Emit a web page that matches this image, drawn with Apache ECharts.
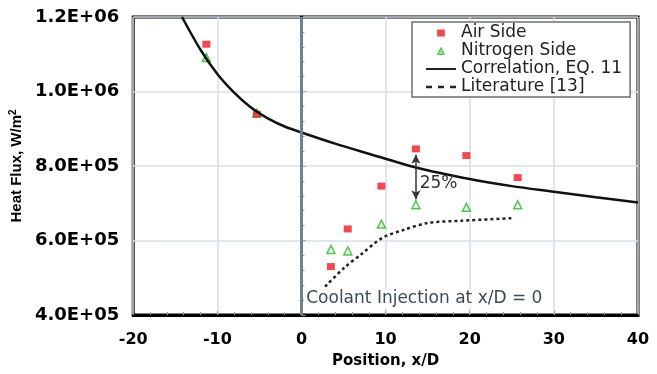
<!DOCTYPE html>
<html>
<head>
<meta charset="utf-8">
<script src="https://cdn.jsdelivr.net/npm/echarts@6/dist/echarts.min.js"></script>
<style>
  html, body { margin: 0; padding: 0; background: #fff; }
  #chart { width: 657px; height: 374px; }
</style>
</head>
<body>
<div id="chart"></div>
<script>
// values
const airX = [-11.3, -5.3, 3.5, 5.5, 9.5, 13.6, 19.6, 25.7];
const airY = [1127000, 939000, 530000, 631000, 746000, 846000, 828000, 769000];

const n2X = [-11.3, -5.3, 3.5, 5.5, 9.5, 13.6, 19.6, 25.7];
const n2Y = [1091000, 942000, 576000, 572000, 644000, 696000, 689000, 696000];

const corrX = [-14.2, -12, -10, -8, -6, -4, -2, 0, 4, 8, 13.6, 20, 25, 30, 35, 40];
const corrY = [1200000, 1112000, 1047000, 997000, 957000, 928000, 906000, 890000, 860000, 833000, 796000, 765000, 746000, 731000, 716000, 702000];

const litX = [2.8, 5.1, 7.1, 9.6, 12.2, 15, 19, 25.1];
const litY = [476000, 527000, 563000, 607000, 629000, 647000, 653000, 660000];

const xTicks = { min: -20, max: 40, step: 10 };
const yTicks = { min: 400000, max: 1200000, step: 200000 };

const arrowX = 13.6, arrowTop = 830000, arrowBottom = 711000;

const zip = (xs, ys) => xs.map((x, i) => [x, ys[i]]);

function sci(v) {
  const parts = v.toExponential(1).split('e');
  const e = parseInt(parts[1], 10);
  const sign = e < 0 ? '-' : '+';
  const ee = String(Math.abs(e)).padStart(2, '0');
  return parts[0] + 'E' + sign + ee;
}

const chart = echarts.init(document.getElementById('chart'));

const wide = 'DejaVu Sans';
const narrow = 'Liberation Sans';

const option = {
  animation: false,
  backgroundColor: '#fff',
  grid: {
    left: 132, right: 19, top: 17, bottom: 56,
    show: true,
    backgroundColor: '#fff',
    borderColor: '#000',
    borderWidth: 3
  },
  legend: {
    orient: 'vertical',
    left: 412,
    top: 22,
    backgroundColor: '#fff',
    borderColor: '#6f6f6f',
    borderWidth: 1.5,
    borderRadius: 0,
    padding: [2, 8, 1, 14],
    itemGap: 0,
    itemWidth: 30,
    itemHeight: 7,
    textStyle: { fontFamily: wide, fontSize: 17, color: '#222', lineHeight: 18 },
    data: [
      { name: 'Air Side', icon: 'path://M0,0h10v9h-10z', itemStyle: { color: '#ee1c25' } },
      { name: 'Nitrogen Side', icon: 'path://M5,0L10,10L0,10z', itemStyle: { color: '#6fd46f', borderColor: '#2fb52f', borderWidth: 1 } },
      { name: 'Correlation, EQ. 11', icon: 'path://M0,0h30v2h-30z', itemStyle: { color: '#222' } },
      { name: 'Literature [13]', icon: 'path://M0,0h5v2h-5z M10,0h5v2h-5z M20,0h5v2h-5z', itemStyle: { color: '#222' } }
    ]
  },
  xAxis: {
    type: 'value',
    min: xTicks.min, max: xTicks.max, interval: xTicks.step,
    name: 'Position, x/D',
    nameLocation: 'middle',
    nameGap: 39,
    nameTextStyle: { fontFamily: wide, fontWeight: 'bold', fontSize: 15, color: '#000' },
    axisLine: { lineStyle: { color: '#000', width: 3 } },
    axisTick: { inside: true, length: 4, lineStyle: { color: '#999' } },
    minorTick: { show: true, splitNumber: 5, length: 3, lineStyle: { color: '#999' } },
    splitLine: { show: true, lineStyle: { color: '#d6e0e8', width: 1.5 } },
    axisLabel: { fontFamily: wide, fontWeight: 'bold', fontSize: 16, color: '#000', margin: 17 }
  },
  yAxis: {
    type: 'value',
    min: yTicks.min, max: yTicks.max, interval: yTicks.step,
    name: 'Heat Flux, W/m{sup|2}',
    nameLocation: 'middle',
    nameGap: 102,
    nameTextStyle: {
      fontFamily: narrow, fontWeight: 'bold', fontSize: 15, color: '#000',
      rich: { sup: { fontFamily: narrow, fontWeight: 'bold', fontSize: 10, color: '#000', verticalAlign: 'top', padding: [0, 0, 7, 0] } }
    },
    axisLine: { lineStyle: { color: '#000', width: 3 } },
    axisTick: { inside: true, length: 4, lineStyle: { color: '#999' } },
    minorTick: { show: true, splitNumber: 5, length: 3, lineStyle: { color: '#999' } },
    splitLine: { show: true, lineStyle: { color: '#d6e0e8', width: 1.5 } },
    axisLabel: { fontFamily: wide, fontWeight: 'bold', fontSize: 18, color: '#000', margin: 14, formatter: sci }
  },
  series: [
    {
      name: 'ref',
      type: 'line',
      data: [],
      silent: true,
      markLine: {
        silent: true,
        symbol: 'none',
        label: { show: false },
        lineStyle: { color: '#6e8290', width: 3, type: 'solid' },
        data: [{ xAxis: 0 }]
      },
      markPoint: {
        silent: true,
        symbol: 'rect',
        symbolSize: 0,
        data: [
          {
            coord: [16.3, 752000],
            label: { show: true, formatter: '25%', fontFamily: wide, fontSize: 17, color: '#333' }
          },
          {
            coord: [14.6, 445000],
            label: {
              show: true, formatter: 'Coolant Injection at x/D = 0',
              fontFamily: wide, fontSize: 17, color: '#3b4c58',
              backgroundColor: '#fff', padding: [1, 2]
            }
          }
        ]
      }
    },
    {
      name: 'Correlation, EQ. 11',
      type: 'line',
      data: zip(corrX, corrY),
      smooth: 0.3,
      symbol: 'none',
      lineStyle: { color: '#111', width: 2.5 },
      itemStyle: { color: '#111' }
    },
    {
      name: 'Literature [13]',
      type: 'line',
      data: zip(litX, litY),
      smooth: 0.3,
      symbol: 'none',
      lineStyle: { color: '#222', width: 2.5, type: [3, 3] },
      itemStyle: { color: '#222' }
    },
    {
      name: 'ref2',
      type: 'line',
      data: [],
      silent: true,
      markLine: {
        silent: true,
        symbol: ['arrow', 'arrow'],
        symbolSize: [7, 9],
        label: { show: false },
        lineStyle: { color: '#333', width: 1.5, type: 'solid' },
        data: [[{ coord: [arrowX, arrowTop] }, { coord: [arrowX, arrowBottom] }]]
      }
    },
    {
      name: 'Nitrogen Side',
      type: 'scatter',
      data: zip(n2X, n2Y),
      symbol: 'triangle',
      symbolSize: 8,
      itemStyle: { color: '#dff5df', borderColor: '#2fb52f', borderWidth: 1.5 }
    },
    {
      name: 'Air Side',
      type: 'scatter',
      data: zip(airX, airY),
      symbol: 'rect',
      symbolSize: [8, 7],
      itemStyle: { color: '#ee1c25' }
    }
  ]
};

chart.setOption(option);
</script>
</body>
</html>
